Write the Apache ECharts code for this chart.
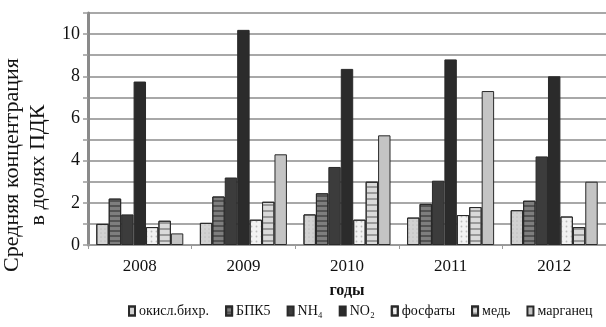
<!DOCTYPE html>
<html>
<head>
<meta charset="utf-8">
<script src="https://cdn.jsdelivr.net/npm/echarts@6/dist/echarts.min.js"></script>
<style>html,body{margin:0;padding:0;background:#fff}#c{width:606px;height:327px}</style>
</head>
<body>
<div id="c"></div>
<script>
const years = ['2008', '2009', '2010', '2011', '2012'];
const seriesNames = ['окисл.бихр.', 'БПК5', 'NH₄', 'NO₂', 'фосфаты', 'медь', 'марганец'];
const okisl = [1.0, 1.05, 1.45, 1.3, 1.65];
const bpk5 = [2.2, 2.3, 2.45, 1.95, 2.1];
const nh4 = [1.45, 3.2, 3.7, 3.05, 4.2];
const no2 = [7.75, 10.2, 8.35, 8.8, 8.0];
const fosfaty = [0.85, 1.2, 1.2, 1.42, 1.35];
const med = [1.15, 2.05, 3.0, 1.8, 0.85];
const marganec = [0.55, 4.3, 5.2, 7.3, 3.0];
const values = [okisl, bpk5, nh4, no2, fosfaty, med, marganec];

const colors = ['#d2d2d2', '#7e7e7e', '#3c3c3c', '#2b2b2b', '#f2f2f2', '#dadada', '#c4c4c4'];
const decals = [
  {symbol: 'circle', symbolSize: 0.5, dashArrayX: [2, 2], dashArrayY: [2, 2], color: 'rgba(120,120,120,0.5)'},
  {symbol: 'rect', symbolSize: 1, dashArrayX: [[1, 0]], dashArrayY: [2, 3], color: 'rgba(40,40,40,0.5)'},
  'none', 'none',
  {symbol: 'circle', symbolSize: 0.6, dashArrayX: [3, 2], dashArrayY: [3, 2], color: 'rgba(150,150,150,0.6)'},
  {symbol: 'rect', symbolSize: 1, dashArrayX: [[1, 0]], dashArrayY: [2, 4], color: 'rgba(110,110,110,0.6)'},
  'none'
];
const font = 'Liberation Serif';

const chart = echarts.init(document.getElementById('c'), null, {renderer: 'canvas'});
chart.setOption({
  animation: false,
  textStyle: {fontFamily: font},
  grid: {left: 88, right: 0, top: 13, bottom: 82, outerBoundsMode: 'none', containLabel: false},
  legend: {
    top: 304, left: 128, right: 0, itemWidth: 6, itemHeight: 9, itemGap: 16,
    icon: 'rect', padding: 0,
    textStyle: {fontFamily: font, fontSize: 14, color: '#111', padding: [0, 0, 0, -1]},
    data: seriesNames
  },
  xAxis: {
    type: 'category', data: years,
    name: 'годы', nameLocation: 'middle', nameGap: 38,
    nameTextStyle: {fontFamily: font, fontSize: 16, fontWeight: 'bold', color: '#111'},
    axisLine: {lineStyle: {color: '#9a9a9a', width: 2}},
    axisTick: {show: true, length: 4, lineStyle: {color: '#9a9a9a'}},
    axisLabel: {fontFamily: font, fontSize: 17, color: '#111', margin: 13}
  },
  yAxis: {
    type: 'value', min: 0, max: 11, interval: 1,
    name: 'Средняя концентрация\nв долях ПДК', nameLocation: 'middle', nameGap: 36,
    nameTextStyle: {fontFamily: font, fontSize: 22, color: '#111', lineHeight: 26, padding: [0, 72, 0, 0]},
    axisLine: {show: true, lineStyle: {color: '#8a8a8a', width: 3}},
    axisTick: {show: true, length: 5, lineStyle: {color: '#9a9a9a', width: 1.5}},
    axisLabel: {fontFamily: font, fontSize: 18, color: '#111', margin: 8,
      formatter: v => (v % 2 === 0 ? String(v) : '')},
    splitLine: {lineStyle: {color: '#a8a8a8', width: 2}}
  },
  series: seriesNames.map((n, i) => ({
    name: n, type: 'bar', data: values[i],
    barGap: '0%', barCategoryGap: '16%',
    itemStyle: {color: colors[i], borderColor: '#2a2a2a', borderWidth: 1,
      decal: decals[i] === 'none' ? undefined : decals[i]}
  }))
});
</script>
</body>
</html>
